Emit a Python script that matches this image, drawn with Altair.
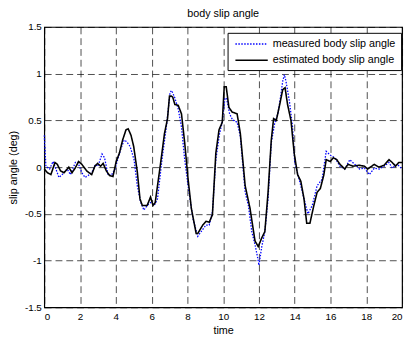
import altair as alt
import pandas as pd

# measured body slip angle (blue dotted)
T_MEAS = [0.0, 0.09, 0.3, 0.49, 0.65, 0.82, 1.0, 1.28, 1.46, 1.74, 1.88, 2.1, 2.28, 2.45, 2.65, 2.87, 3.0, 3.23, 3.37, 3.56, 3.74, 3.96, 4.1, 4.29, 4.47, 4.62, 4.8, 5.02, 5.2, 5.38, 5.57, 5.75, 5.94, 6.15, 6.33, 6.58, 6.85, 7.03, 7.12, 7.3, 7.49, 7.67, 7.85, 8.04, 8.31, 8.58, 8.77, 9.04, 9.22, 9.4, 9.59, 9.8, 9.95, 10.1, 10.2, 10.36, 10.54, 10.6, 10.78, 10.96, 11.23, 11.41, 11.6, 11.78, 11.93, 12.0, 12.15, 12.33, 12.51, 12.69, 12.88, 13.06, 13.2, 13.33, 13.42, 13.51, 13.7, 13.88, 14.0, 14.25, 14.52, 14.74, 14.98, 15.25, 15.53, 15.76, 15.98, 16.25, 16.53, 16.8, 17.08, 17.35, 17.62, 17.9, 18.17, 18.45, 18.72, 19.0, 19.27, 19.45, 19.73, 20.0]
V_MEAS = [0.34, 0.01, -0.02, 0.06, -0.02, -0.11, -0.08, -0.02, -0.08, 0.05, 0.05, -0.06, -0.11, -0.09, -0.06, 0.03, 0.01, 0.14, 0.1, -0.08, -0.09, -0.02, 0.08, 0.2, 0.29, 0.27, 0.22, 0.08, -0.2, -0.37, -0.46, -0.41, -0.38, -0.41, -0.34, 0.08, 0.47, 0.8, 0.82, 0.74, 0.62, 0.43, 0.08, -0.2, -0.55, -0.74, -0.69, -0.62, -0.62, -0.48, 0.08, 0.36, 0.48, 0.74, 0.73, 0.57, 0.5, 0.5, 0.48, 0.33, -0.27, -0.41, -0.69, -0.83, -0.97, -1.05, -0.86, -0.69, -0.34, 0.26, 0.47, 0.57, 0.74, 0.92, 0.99, 0.92, 0.71, 0.43, 0.05, -0.13, -0.34, -0.5, -0.41, -0.2, -0.13, 0.17, 0.13, 0.1, 0.01, -0.02, 0.08, 0.03, -0.02, -0.01, -0.08, -0.01, -0.02, 0.01, 0.05, -0.01, 0.03, -0.02]

# estimated body slip angle (black solid)
T_EST = [0.0, 0.18, 0.37, 0.6, 0.73, 0.91, 1.1, 1.37, 1.55, 1.73, 1.92, 2.1, 2.37, 2.65, 2.83, 2.98, 3.15, 3.29, 3.47, 3.65, 3.84, 4.02, 4.2, 4.38, 4.57, 4.69, 4.85, 5.0, 5.2, 5.35, 5.48, 5.75, 5.94, 6.08, 6.2, 6.48, 6.72, 6.89, 7.0, 7.1, 7.18, 7.3, 7.49, 7.67, 7.85, 8.04, 8.22, 8.49, 8.58, 8.86, 9.04, 9.22, 9.4, 9.59, 9.77, 9.95, 10.06, 10.17, 10.32, 10.5, 10.78, 10.96, 11.23, 11.5, 11.78, 11.96, 12.15, 12.33, 12.51, 12.69, 12.82, 12.97, 13.15, 13.33, 13.46, 13.6, 13.79, 13.97, 14.16, 14.34, 14.52, 14.67, 14.85, 15.07, 15.25, 15.43, 15.62, 15.76, 15.98, 16.16, 16.35, 16.53, 16.8, 16.98, 17.26, 17.6, 17.9, 18.08, 18.45, 18.7, 19.0, 19.27, 19.45, 19.64, 19.82, 20.0]
V_EST = [-0.02, -0.06, -0.08, 0.05, 0.03, -0.04, -0.06, 0.0, -0.06, -0.01, 0.06, 0.03, -0.04, -0.08, 0.01, 0.04, 0.01, 0.04, -0.04, -0.09, -0.1, 0.06, 0.15, 0.29, 0.4, 0.41, 0.34, 0.22, -0.05, -0.34, -0.41, -0.41, -0.32, -0.41, -0.38, 0.01, 0.36, 0.52, 0.76, 0.76, 0.75, 0.67, 0.66, 0.57, 0.26, -0.13, -0.44, -0.71, -0.71, -0.62, -0.58, -0.59, -0.51, 0.15, 0.4, 0.48, 0.86, 0.86, 0.64, 0.59, 0.57, 0.36, -0.2, -0.44, -0.79, -0.85, -0.76, -0.69, -0.27, 0.29, 0.52, 0.5, 0.66, 0.83, 0.85, 0.67, 0.5, 0.15, -0.08, -0.15, -0.34, -0.6, -0.6, -0.41, -0.27, -0.23, -0.09, 0.08, 0.06, 0.1, 0.08, 0.03, -0.02, 0.03, 0.01, 0.02, 0.01, -0.02, 0.03, 0.0, 0.02, 0.08, 0.05, 0.01, 0.05, 0.05]

SERIES = ["measured body slip angle", "estimated body slip angle"]
COLORS = ["#0000ff", "#000000"]
X_TICKS = list(range(0, 21, 2))
Y_TICKS = [-1.5, -1, -0.5, 0, 0.5, 1, 1.5]

df_m = pd.DataFrame({"t": T_MEAS, "v": V_MEAS, "s": SERIES[0]})
df_e = pd.DataFrame({"t": T_EST, "v": V_EST, "s": SERIES[1]})

x = alt.X("t:Q", scale=alt.Scale(domain=[0, 20], nice=False, zero=False),
          axis=alt.Axis(values=X_TICKS, title="time", labelPadding=4,
                        titleY=27, titleBaseline="alphabetic"))
y = alt.Y("v:Q", scale=alt.Scale(domain=[-1.5, 1.5], nice=False, zero=False),
          axis=alt.Axis(values=Y_TICKS, title="slip angle (deg)", labelPadding=3,
                        titleAngle=270, titleX=-31, titleY=143, titleBaseline="middle",
                        titleAlign="center", labelExpr="datum.value + ''"))
color = alt.Color("s:N", scale=alt.Scale(domain=SERIES, range=COLORS),
                  legend=alt.Legend(title=None, orient="none", legendX=187, legendY=6,
                                    strokeColor="black", fillColor="white", padding=5,
                                    rowPadding=4.5, labelFontSize=11, labelOffset=15,
                                    symbolType="M-3,0H3", symbolSize=121, symbolOffset=13,
                                    symbolStrokeWidth=1.5, labelColor="black",
                                    labelFont="Liberation Sans", cornerRadius=0))
dash = alt.StrokeDash("s:N", scale=alt.Scale(domain=SERIES, range=[[1.5, 1.5], [1, 0]]))

meas = alt.Chart(df_m).mark_line(strokeWidth=1.3).encode(x=x, y=y, color=color, strokeDash=dash, order="t:Q")
est = alt.Chart(df_e).mark_line(strokeWidth=1.6).encode(x=x, y=y, color=color, strokeDash=dash, order="t:Q")

chart = alt.layer(meas, est).properties(
    width=365, height=286,
    title=alt.TitleParams("body slip angle", fontSize=11, fontWeight="normal",
                          font="Liberation Sans", offset=3, color="black"),
    autosize=alt.AutoSizeParams(type="none"),
    padding={"left": 37, "top": 16, "right": 3, "bottom": 29},
).configure_view(stroke="black", strokeWidth=1.2).configure_axis(
    domain=False, ticks=False, grid=True, gridColor="black", gridDash=[7, 4],
    gridWidth=0.7, gridOpacity=1, labelFont="Liberation Sans", labelFontSize=10,
    labelColor="black", titleFont="Liberation Sans", titleFontSize=11,
    titleFontWeight="normal", titleColor="black"
)

chart.save("out.html", embed_options={"renderer": "svg", "actions": False})
